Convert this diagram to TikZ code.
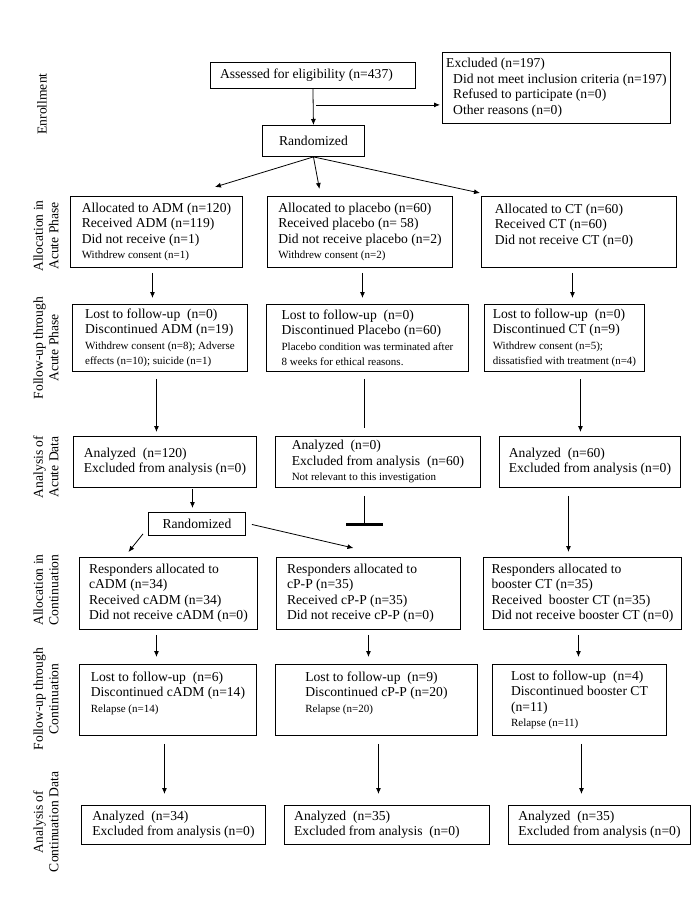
\documentclass[tikz,border=0pt]{standalone}
\usepackage{fontspec}
\setmainfont{Liberation Serif}
\usetikzlibrary{arrows.meta}
\usetikzlibrary{calc}

\newcommand{\mainsize}{\fontsize{13.6}{15.5}\selectfont}
\newcommand{\smallsize}{\fontsize{11}{14}\selectfont}

\tikzset{
  box/.style={draw, line width=0.9pt, anchor=north west, align=left, inner xsep=0pt, inner ysep=1pt, font=\mainsize},
  phase/.style={rotate=90, align=center, font=\mainsize},
  arr/.style={-{Latex[length=6pt,width=5pt]}, line width=0.8pt},
}

\begin{document}
\begin{tikzpicture}[x=1pt,y=-1pt]
\useasboundingbox (0,0) rectangle (696,900);

% phase labels
\node[phase] (lblEnr) at (42,104) {Enrollment};
\node[phase] (lblAlA) at (46,236) {Allocation in\\Acute Phase};
\node[phase] (lblFuA) at (46,348) {Follow-up through\\Acute Phase};
\node[phase] (lblAnA) at (46,467) {Analysis of\\Acute Data};
\node[phase] (lblAlC) at (46,590) {Allocation in\\Continuation};
\node[phase] (lblFuC) at (46,699) {Follow-up through\\Continuation};
\node[phase] (lblAnC) at (46,822) {Analysis of\\Continuation Data};

% enrollment
\node[box, minimum width=205pt, minimum height=26pt] (assess) at (210,62) {Assessed for eligibility (n=437)\hspace*{13pt}};
\node[box, minimum width=228pt, minimum height=71pt] (excl) at (442,52) {Excluded (n=197)\\
\hspace*{7pt}Did not meet inclusion criteria (n=197)\\
\hspace*{7pt}Refused to participate (n=0)\\
\hspace*{7pt}Other reasons (n=0)};
\node[box, align=center, minimum width=102pt, minimum height=31pt] (rand1) at (262,125) {Randomized};

% acute phase
\node[box, minimum width=172pt, minimum height=71pt] (alA) at (70,196) {Allocated to ADM (n=120)\\
Received ADM (n=119)\\
Did not receive (n=1)\\
\smallsize Withdrew consent (n=1)};
\node[box, minimum width=185pt, minimum height=71pt] (alP) at (267,196) {Allocated to placebo (n=60)\\
Received placebo (n=\ 58)\\
Did not receive placebo (n=2)\\
\smallsize Withdrew consent (n=2)};
\node[box, minimum width=195pt, minimum height=71pt] (alC) at (481,196) {Allocated to CT (n=60)\hspace*{40pt}\\
Received CT (n=60)\\
Did not receive CT (n=0)\\
\smallsize\mbox{}};

\node[box, minimum width=175pt, minimum height=67pt] (fuA) at (72,304) {Lost to follow-up\ \ (n=0)\\
Discontinued ADM (n=19)\\
\smallsize Withdrew consent (n=8); Adverse\\
\smallsize effects (n=10); suicide (n=1)};
\node[box, minimum width=202pt, minimum height=67pt] (fuP) at (266,304) {Lost to follow-up\ \ (n=0)\\
Discontinued Placebo (n=60)\\
\smallsize Placebo condition was terminated after\\
\smallsize 8 weeks for ethical reasons.};
\node[box, minimum width=160pt, minimum height=67pt] (fuC) at (484,304) {Lost to follow-up\ \ (n=0)\\
Discontinued CT (n=9)\\
\smallsize Withdrew consent (n=5);\\
\smallsize dissatisfied with treatment (n=4)};

\node[box, minimum width=183pt, minimum height=51pt] (anA) at (73,436) {Analyzed\ \ (n=120)\\
Excluded from analysis (n=0)};
\node[box, minimum width=205pt, minimum height=51pt] (anP) at (275,436) {Analyzed\ \ (n=0)\\
Excluded from analysis\ \ (n=60)\hspace*{14pt}\\
\smallsize Not relevant to this investigation};
\node[box, minimum width=181pt, minimum height=51pt] (anC) at (499,436) {Analyzed\ \ (n=60)\\
Excluded from analysis (n=0)};

% continuation
\node[box, align=center, minimum width=97pt, minimum height=23pt] (rand2) at (148,512) {Randomized};

\node[box, minimum width=178pt, minimum height=72pt] (caA) at (79,557) {Responders allocated to\\
cADM (n=34)\\
Received cADM (n=34)\\
Did not receive cADM (n=0)};
\node[box, minimum width=184pt, minimum height=72pt] (caP) at (276,557) {Responders allocated to\\
cP-P (n=35)\\
Received cP-P (n=35)\\
Did not receive cP-P (n=0)\hspace*{16pt}};
\node[box, minimum width=198pt, minimum height=72pt] (caC) at (483,557) {Responders allocated to\\
booster CT (n=35)\\
Received\ \ booster CT (n=35)\\
Did not receive booster CT (n=0)};

\node[box, minimum width=177pt, minimum height=71pt] (cfA) at (79,664) {Lost to follow-up\ \ (n=6)\\
Discontinued cADM (n=14)\\
\smallsize Relapse (n=14)\\
\smallsize\mbox{}};
\node[box, minimum width=202pt, minimum height=71pt] (cfP) at (275,664) {Lost to follow-up\ \ (n=9)\\
Discontinued cP-P (n=20)\hspace*{36pt}\\
\smallsize Relapse (n=20)\\
\smallsize\mbox{}};
\node[box, minimum width=174pt, minimum height=71pt] (cfC) at (492,664) {Lost to follow-up\ \ (n=4)\\
Discontinued booster CT\hspace*{18pt}\\
(n=11)\\
\smallsize Relapse (n=11)};

\node[box, minimum width=184pt, minimum height=39pt] (cdA) at (81,805) {Analyzed\ \ (n=34)\\
Excluded from analysis (n=0)};
\node[box, minimum width=205pt, minimum height=39pt] (cdP) at (284,805) {Analyzed\ \ (n=35)\\
Excluded from analysis\ \ (n=0)\hspace*{20pt}};
\node[box, minimum width=182pt, minimum height=39pt] (cdC) at (508,805) {Analyzed\ \ (n=35)\\
Excluded from analysis (n=0)};

% connectors
\draw[arr] (assess.south) -- (rand1.north);
\coordinate (split) at ($(assess.south)+(3.5,16)$);
\draw[arr] (split) -- ($(split -| excl.west)+(-2,0)$);
\draw[arr] (rand1.south) -- ($(alA.north east)+(-28,-9)$);
\draw[arr] (rand1.south) -- ($(alP.north)+(-40.5,-7)$);
\draw[arr] (rand1.south) -- ($(alC.north west)+(-1,-3)$);

\draw[arr] ($(alA.south)+(-4,5)$) -- ($(fuA.north)+(-7.5,-6)$);
\draw[arr] ($(alP.south)+(2.5,5)$) -- ($(fuP.north)+(-5,-6)$);
\draw[arr] ($(alC.south)+(-6.5,5)$) -- ($(fuC.north)+(8,-6)$);

\draw[arr] ($(fuA.south)+(-3.5,7)$) -- ($(anA.north)+(-8.5,-4)$);
\draw[line width=0.8pt] ($(fuP.south)+(-3,7)$) -- ($(anP.north)+(-13.5,-8)$);
\draw[arr] ($(fuC.south)+(16,7)$) -- ($(anC.north)+(-9.5,-4)$);

\draw[arr] ($(anA.south)+(27.5,1)$) -- ($(rand2.north)+(-4.5,-4)$);
\coordinate (stop) at ($(anP.south)+(-13.5,37)$);
\draw[line width=0.8pt] ($(anP.south)+(-13.5,8)$) -- (stop);
\draw[line width=3pt] ($(stop)+(-18,0)$) -- ($(stop)+(19,0)$);
\draw[arr] ($(anC.south)+(-21.5,8)$) -- ($(caC.north)+(-14,-5)$);

\draw[arr] ($(rand2.south west)+(-5,-2)$) -- ($(caA.north)+(-40,-5)$);
\draw[arr] ($(rand2.east)+(6,0.5)$) -- ($(caP.north)+(-15,-9)$);

\draw[arr] ($(caA.south)+(-12,5)$) -- ($(cfA.north)+(-11.5,-7)$);
\draw[arr] ($(caP.south)+(0,5)$) -- ($(cfP.north)+(-8,-7)$);
\draw[arr] ($(caC.south)+(-4,5)$) -- ($(cfC.north)+(-1,-7)$);

\draw[arr] ($(cfA.south)+(-3.5,8)$) -- ($(cdA.north)+(-9,-11)$);
\draw[arr] ($(cfP.south)+(2,8)$) -- ($(cdP.north)+(-8.5,-11)$);
\draw[arr] ($(cfC.south)+(2,8)$) -- ($(cdC.north)+(-18,-11)$);

\end{tikzpicture}
\end{document}
